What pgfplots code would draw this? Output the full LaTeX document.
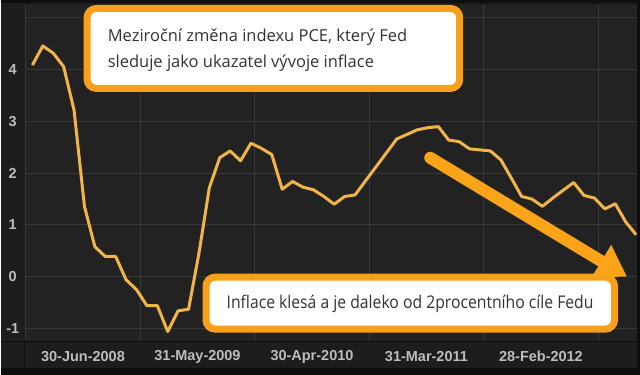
\documentclass[border=0pt]{standalone}
\usepackage{fontspec}
\usepackage{pgfplots}
\pgfplotsset{compat=1.18}
\usetikzlibrary{arrows.meta}
\setmainfont{Open Sans}
\newfontfamily\tickfont{Liberation Sans}
\newfontfamily\condfont[FakeStretch=0.9]{Open Sans}
\definecolor{edgec}{HTML}{0E0E0E}
\definecolor{bandc}{HTML}{1D1D1D}
\definecolor{bgplot}{HTML}{222222}
\definecolor{gridc}{HTML}{383838}
\definecolor{tickc}{HTML}{BDBDBD}
\definecolor{linec}{HTML}{F0B448}
\definecolor{boxorange}{HTML}{F8A01C}
\definecolor{arrowc}{HTML}{FBA41A}
\definecolor{textc}{HTML}{333333}
\begin{document}
\begin{tikzpicture}
\fill[edgec] (-24pt,-33pt) rectangle (616pt,342pt);
\fill[bandc] (-24pt,-26pt) rectangle (613pt,339pt);
\begin{axis}[
  scale only axis, width=613pt, height=337pt,
  xmin=-0.739, xmax=58.09, ymin=-1.255, ymax=5.251,
  axis background/.style={fill=bgplot},
  axis line style={draw=none},
  major tick length=0pt,
  xtick={4.86,15.86,26.86,37.86,48.86},
  xticklabels={30-Jun-2008,31-May-2009,30-Apr-2010,31-Mar-2011,28-Feb-2012},
  ytick={-1,0,1,2,3,4,5},
  yticklabels={-1,0,1,2,3,4,{}},
  ymajorgrids,
  major grid style={gridc, line width=1pt},
  extra x ticks={-0.64,10.36,21.36,32.36,43.36,54.36},
  extra x tick labels={},
  extra x tick style={grid=major, major tick length=0pt},
  ticklabel style={font=\tickfont\bfseries\fontsize{14.5}{16}\selectfont, text=tickc},
  xticklabel style={anchor=center, yshift=-15pt},
  yticklabel style={anchor=center, xshift=-12pt},
  clip=false,
]
\addplot[linec, line width=3pt, line join=round] coordinates {
(0,4.09) (1,4.46) (2,4.32) (3,4.06) (4,3.22) (5,1.36) (6,0.58) (7,0.39) (8,0.39)
(9,-0.06) (10,-0.25) (11,-0.56) (12,-0.56) (13,-1.06) (14,-0.66) (15,-0.63)
(16,0.45) (17,1.72) (18,2.30) (19,2.43) (20,2.24) (21,2.58) (22,2.48) (23,2.36)
(24,1.69) (25,1.84) (26,1.73) (27,1.68) (28,1.55) (29,1.40) (30,1.55) (31,1.58)
(32,1.85) (33,2.12) (34,2.39) (35,2.66) (36,2.75) (37,2.84) (38,2.88) (39,2.90)
(40,2.64) (41,2.61) (42,2.47) (43,2.45) (44,2.43) (45,2.26) (46,1.91) (47,1.55)
(48,1.50) (49,1.36) (50,1.52) (51,1.67) (52,1.82) (53,1.57) (54,1.52) (55,1.31)
(56,1.41) (57,1.06) (58,0.81)
};
\end{axis}
\draw[edgec, line width=1.5pt] (-24pt,0pt) -- (613pt,0pt);
\draw[edgec, line width=1.5pt] (0pt,0pt) -- (0pt,-26pt);
% top box
\fill[black, opacity=0.5, rounded corners=9pt] (61pt,250pt) rectangle (439pt,331pt);
\draw[boxorange, line width=7pt, fill=white, rounded corners=9pt] (62.5pt,253.5pt) rectangle (435.5pt,333.5pt);
\node[anchor=west, align=left, font=\fontsize{16.5}{26}\selectfont, text=textc, inner sep=0pt] at (83pt,292pt)
  {Meziroční změna indexu PCE, který Fed\\sleduje jako ukazatel vývoje inflace};
% bottom box
\fill[black, opacity=0.5, rounded corners=9pt] (180pt,9pt) rectangle (594pt,63pt);
\draw[boxorange, line width=7pt, fill=white, rounded corners=9pt] (181.5pt,12.5pt) rectangle (590.5pt,64.5pt);
\node[anchor=west, font=\condfont\fontsize{17.5}{20}\selectfont, text=textc, inner sep=0pt] at (202pt,38pt)
  {Inflace klesá a je daleko od 2procentního cíle Fedu};
% arrow
\draw[arrowc, line width=12pt, line cap=round, -{Triangle[length=30pt,width=36pt]}] (406pt,184pt) -- (603pt,65pt);
\end{tikzpicture}
\end{document}
